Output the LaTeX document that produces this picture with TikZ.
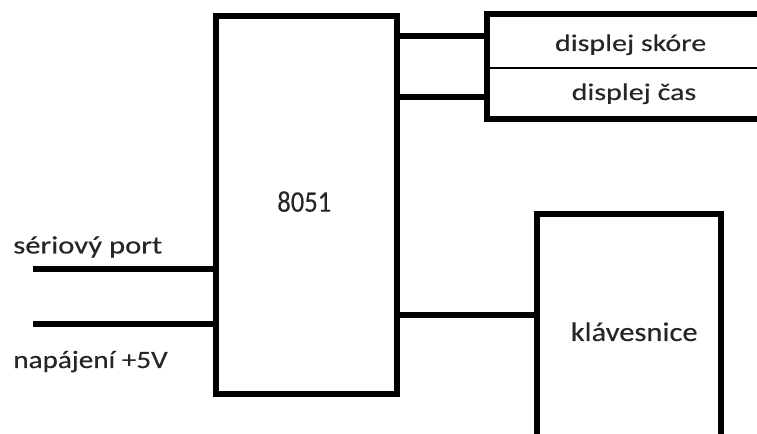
\documentclass[tikz,border=0pt]{standalone}
\usepackage{fontspec}
\setmainfont{Carlito}[FakeBold=0.25]
\begin{document}
\begin{tikzpicture}[x=1bp,y=-1bp,
  blk/.style={draw=black,line width=6bp,rectangle,inner sep=0pt,outer sep=0pt,line join=miter},
  wire/.style={draw=black,line width=6bp},
  lbl/.style={anchor=base west,inner sep=0pt,outer sep=0pt,text=black!85}]
\useasboundingbox[fill=white] (0,0) rectangle (757,434);
% boxes
\node[blk,minimum width=181bp,minimum height=378bp] (cpu) at (306.5,205) {};
\node[blk,minimum width=313bp,minimum height=104.5bp] (disp) at (643.5,66.75) {};
\node[blk,minimum width=184bp,minimum height=266bp] (kb) at (629,347) {};
\coordinate (dv) at (0,68);
\draw[line width=1.5bp] (disp.west |- dv) -- (disp.east |- dv);
% labels
\node[lbl] (t8051) at (277.3,211.7) {\fontsize{30}{30}\selectfont\scalebox{0.89}[1]{8051}};
\node[lbl] (tsk) at (555,51) {\fontsize{24}{24}\selectfont\scalebox{1.256}[1]{displej skóre}};
\node[lbl] (tcas) at (571.7,100) {\fontsize{24}{24}\selectfont\scalebox{1.256}[1]{displej čas}};
\node[lbl] (tser) at (13.3,253.5) {\fontsize{25}{25}\selectfont\scalebox{1.23}[1]{sériový port}};
\node[lbl] (tnap) at (13.3,368) {\fontsize{25}{25}\selectfont\scalebox{1.17}[1]{napájení +5V}};
\node[lbl] (tkb) at (570.7,341) {\fontsize{27}{27}\selectfont\scalebox{1.136}[1]{klávesnice}};
% connectors
\coordinate (y1) at (0,36);
\coordinate (y2) at (0,97);
\coordinate (y3) at (0,315);
\coordinate (sp) at (33,269);
\coordinate (pw) at (33,324);
\draw[wire] (cpu.east |- y1) -- (disp.west |- y1);
\draw[wire] (cpu.east |- y2) -- (disp.west |- y2);
\draw[wire] (cpu.east |- y3) -- (kb.west |- y3);
\draw[wire] (sp) -- (sp -| cpu.west);
\draw[wire] (pw) -- (pw -| cpu.west);
\end{tikzpicture}
\end{document}
